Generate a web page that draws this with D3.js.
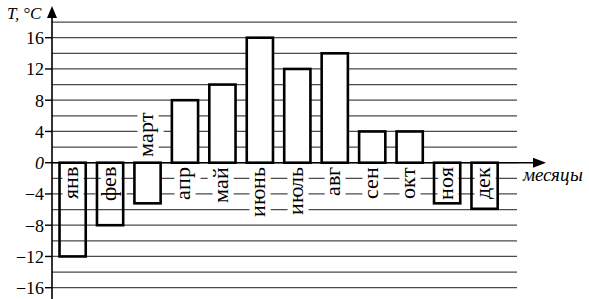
<!DOCTYPE html>
<html>
<head>
<meta charset="utf-8">
<script src="https://cdn.jsdelivr.net/npm/d3@7"></script>
<style>
  @font-face { font-family: "ChartSerif"; src: local("Liberation Serif"), local("LiberationSerif"), local("LiberationSerif-Regular"); font-style: normal; }
  @font-face { font-family: "ChartSerif"; src: local("Liberation Serif Italic"), local("LiberationSerif-Italic"); font-style: italic; }
</style>
</head>
<body style="margin:0">
<script>
var months = ["янв", "фев", "март", "апр", "май", "июнь", "июль", "авг", "сен", "окт", "ноя", "дек"];
var temps = [-12, -8, -5.2, 8, 10, 16, 12, 14, 4, 4, -5.2, -5.9];
var tickValues = [-16, -12, -8, -4, 0, 4, 8, 12, 16];
var gridValues = [-16, -14, -12, -10, -8, -6, -4, -2, 0, 2, 4, 6, 8, 10, 12, 14, 16, 18];

var chartW = 589, chartH = 299;
var axisX = 52;
var fontFam = 'ChartSerif, Liberation Serif, serif';

// where each month name sits: inside the bar, above the zero line, or below it
var insideLabels = ["янв", "фев", "ноя", "дек"];
var aboveLabels = ["март"];

var svg = d3.select('body').append('svg')
    .attr('width', chartW)
    .attr('height', chartH);

var yScale = d3.scaleLinear().domain([-16, 16]).range([287.7, 37.7]);
var xScale = d3.scaleBand().domain(months).range([53.9, 503.3])
    .paddingInner(0.3).paddingOuter(0.15);

// grid lines
svg.append('g').selectAll('line')
    .data(gridValues)
    .enter().append('line')
    .attr('x1', axisX).attr('x2', 517)
    .attr('y1', d => yScale(d)).attr('y2', d => yScale(d))
    .style('stroke', '#4a4a4a')
    .style('stroke-width', 1.2);

var haloLayer = svg.append('g');
var barLayer = svg.append('g');
var textLayer = svg.append('g');

function labelTransform(d){
    var cx = xScale(d) + xScale.bandwidth()/2;
    var ty = aboveLabels.indexOf(d) >= 0 ? yScale(0) - 6 : yScale(0) + 4;
    return 'translate(' + cx + ',' + ty + ') rotate(-90)';
}

function addLabels(layer, halo){
    return layer.selectAll('text')
        .data(months)
        .enter().append('text')
        .attr('transform', labelTransform)
        .attr('text-anchor', d => aboveLabels.indexOf(d) >= 0 ? 'start' : 'end')
        .attr('dy', '0.25em')
        .attr('font-size', 22)
        .style('font-family', fontFam)
        .style('fill', halo ? '#fff' : '#000')
        .style('stroke', halo ? '#fff' : 'none')
        .style('stroke-width', halo ? 11 : 0)
        .style('stroke-linejoin', 'round')
        .text(d => d);
}

// white halo under the month names cuts the grid lines
addLabels(haloLayer, true);

// bars
barLayer.selectAll('rect')
    .data(temps)
    .enter().append('rect')
    .attr('x', (d, i) => xScale(months[i]))
    .attr('width', xScale.bandwidth())
    .attr('y', d => yScale(Math.max(d, 0)))
    .attr('height', d => Math.abs(yScale(d) - yScale(0)))
    .style('fill', (d, i) => insideLabels.indexOf(months[i]) >= 0 ? 'none' : '#fff')
    .style('stroke', '#000')
    .style('stroke-width', 2.6);

addLabels(textLayer, false);

// axes
svg.append('line')
    .attr('x1', axisX).attr('x2', axisX)
    .attr('y1', 16).attr('y2', chartH)
    .style('stroke', '#000').style('stroke-width', 1.6);
svg.append('path')
    .attr('d', 'M' + (axisX - 5) + ',18 L' + axisX + ',6 L' + (axisX + 5) + ',18 Z')
    .style('fill', '#000');

svg.append('line')
    .attr('x1', axisX).attr('x2', 535)
    .attr('y1', yScale(0)).attr('y2', yScale(0))
    .style('stroke', '#000').style('stroke-width', 1.6);
svg.append('path')
    .attr('d', 'M533,' + (yScale(0) - 5) + ' L546,' + yScale(0) + ' L533,' + (yScale(0) + 5) + ' Z')
    .style('fill', '#000');

// ticks and tick labels
var tickG = svg.append('g').selectAll('g')
    .data(tickValues)
    .enter().append('g');

tickG.append('line')
    .attr('x1', axisX - 7).attr('x2', axisX)
    .attr('y1', d => yScale(d)).attr('y2', d => yScale(d))
    .style('stroke', '#000').style('stroke-width', 1.4);

tickG.append('text')
    .attr('x', 44)
    .attr('y', d => yScale(d))
    .attr('dy', '0.35em')
    .attr('text-anchor', 'end')
    .attr('font-size', 18)
    .style('font-family', fontFam)
    .style('font-style', d => d == 0 ? 'italic' : 'normal')
    .text(d => d < 0 ? '\u2212' + Math.abs(d) : d);

// axis titles
svg.append('text')
    .attr('x', 7).attr('y', 19)
    .attr('font-size', 17)
    .style('font-family', fontFam)
    .style('font-style', 'italic')
    .text('T, °C');

svg.append('text')
    .attr('x', 523).attr('y', 181)
    .attr('font-size', 19)
    .style('font-family', fontFam)
    .style('font-style', 'italic')
    .text('месяцы');
</script>
</body>
</html>
